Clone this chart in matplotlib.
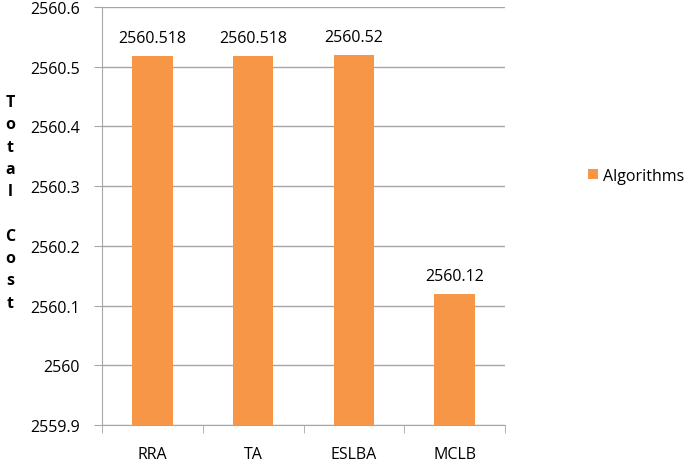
import numpy as np
import matplotlib.pyplot as plt

plt.rcParams['font.family'] = ['Open Sans', 'DejaVu Sans']

# values
algorithms = ['RRA', 'TA', 'ESLBA', 'MCLB']
total_cost = [2560.518, 2560.518, 2560.52, 2560.12]
value_labels = ['2560.518', '2560.518', '2560.52', '2560.12']
yticks = [2559.9, 2560, 2560.1, 2560.2, 2560.3, 2560.4, 2560.5, 2560.6]
ytick_labels = ['2559.9', '2560', '2560.1', '2560.2', '2560.3', '2560.4', '2560.5', '2560.6']

bar_color = '#F79646'
grid_color = '#A6A6A6'
fs = 11.5

fig = plt.figure(figsize=(6.85, 4.64), dpi=100)
ax = fig.add_axes([102 / 685, 1 - 426 / 464, (505 - 102) / 685, (426 - 8) / 464])

x = np.arange(len(algorithms))
bars = ax.bar(x, [v - 2559.9 for v in total_cost], bottom=2559.9, width=0.4,
              color=bar_color, label='Algorithms', zorder=3)

for xi, v, lab in zip(x, total_cost, value_labels):
    ax.text(xi, v + 0.016, lab, ha='center', va='bottom', fontsize=fs, color='#000000')

ax.set_xlim(-0.5, len(algorithms) - 0.5)
ax.set_ylim(2559.9, 2560.6)
ax.set_yticks(yticks)
ax.set_yticklabels(ytick_labels, fontsize=fs)
ax.set_xticks(x)
ax.set_xticklabels(algorithms, fontsize=fs)
ax.tick_params(axis='x', length=0, pad=15)
ax.tick_params(axis='y', length=6, color=grid_color, pad=10)

# category boundary ticks on the x axis
ax.set_xticks(np.arange(-0.5, len(algorithms), 1), minor=True)
ax.tick_params(axis='x', which='minor', length=6, color=grid_color)

ax.grid(axis='y', color=grid_color, linewidth=1, zorder=0)
for side in ['top', 'right']:
    ax.spines[side].set_visible(False)
for side in ['left', 'bottom']:
    ax.spines[side].set_color(grid_color)

# stacked y-axis label
ylabel_letters = ['T', 'o', 't', 'a', 'l', '', 'C', 'o', 's', 't']
for i, ch in enumerate(ylabel_letters):
    fig.text(10 / 685, 1 - (103 + i * 22.3) / 464, ch, ha='center', va='center',
             fontsize=fs, fontweight='bold')

fig.legend(handles=[bars], labels=['Algorithms'], loc='center left',
           bbox_to_anchor=(574 / 685, 1 - 177 / 464), frameon=False,
           fontsize=fs, handlelength=0.6, handleheight=0.6, handletextpad=0.3)

fig.savefig('out.png', dpi=100)
